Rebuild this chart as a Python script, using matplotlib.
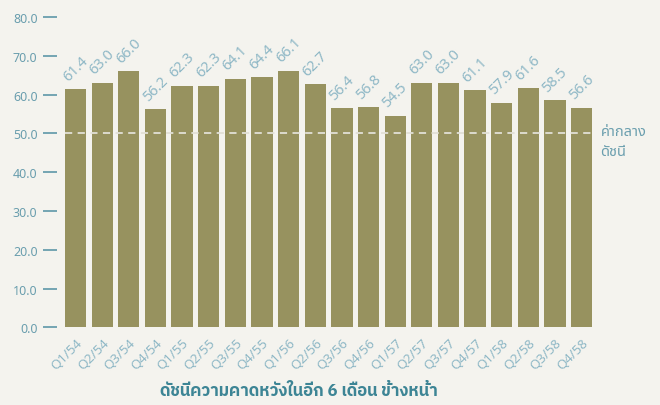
import matplotlib
matplotlib.use('Agg')
import matplotlib.pyplot as plt

# quarters (Thai Buddhist year) and index values
quarters = ['Q1/54', 'Q2/54', 'Q3/54', 'Q4/54', 'Q1/55', 'Q2/55', 'Q3/55', 'Q4/55',
            'Q1/56', 'Q2/56', 'Q3/56', 'Q4/56', 'Q1/57', 'Q2/57', 'Q3/57', 'Q4/57',
            'Q1/58', 'Q2/58', 'Q3/58', 'Q4/58']
values = [61.4, 63.0, 66.0, 56.2, 62.3, 62.3, 64.1, 64.4, 66.1, 62.7,
          56.4, 56.8, 54.5, 63.0, 63.0, 61.1, 57.9, 61.6, 58.5, 56.6]
yticks = [0, 10, 20, 30, 40, 50, 60, 70, 80]
midline = 50.0
midline_label = 'ค่ากลาง\nดัชนี'
xlabel = 'ดัชนีความคาดหวังในอีก 6 เดือน ข้างหน้า'

plt.rcParams['font.family'] = ['Noto Sans Thai', 'DejaVu Sans']

bg = '#f4f3ee'
fig = plt.figure(figsize=(6.6, 4.06), dpi=100, facecolor=bg)
ax = fig.add_axes([0.0864, 0.191, 0.815, 0.765], facecolor=bg)

x = list(range(len(values)))
ax.bar(x, values, width=0.8, color='#97925f', zorder=2)
ax.hlines(midline, -0.4, len(values) - 0.6, color='#e2e0d6', ls=(0, (4, 3)), lw=1.3, zorder=3)

for i, v in zip(x, values):
    ax.annotate('%.1f' % v, (i, v), xytext=(0, 4), textcoords='offset points',
                rotation=45, ha='center', va='bottom', color='#8fb8c6', fontsize=10.5)

ax.annotate(midline_label, (len(values) - 0.6, midline), xytext=(6, 7),
            textcoords='offset points', color='#6a9eae', fontsize=10.5,
            va='top', ha='left', linespacing=1.45, annotation_clip=False)

ax.set_xlim(-0.695, 19.5)
ax.set_ylim(0, 80)
ax.set_yticks(yticks)
ax.set_yticklabels(['%.1f' % t for t in yticks])
ax.set_xticks(x)
ax.set_xticklabels(quarters, rotation=45, ha='right', rotation_mode='anchor')
for s in ax.spines.values():
    s.set_visible(False)
ax.tick_params(axis='y', length=10, width=1.2, color='#5d97a8', labelcolor='#6a9eae',
               labelsize=9, pad=4)
ax.tick_params(axis='x', length=0, labelcolor='#8fb8c6', labelsize=9.5, pad=6)
ax.set_xlabel(xlabel, color='#3d8595', fontsize=12, fontweight='bold', labelpad=6,
              family=['IBM Plex Sans Thai', 'Noto Sans Thai', 'DejaVu Sans'])
ax.xaxis.set_label_coords(0.45, -0.175)

fig.savefig('out.png', dpi=100, facecolor=bg)
